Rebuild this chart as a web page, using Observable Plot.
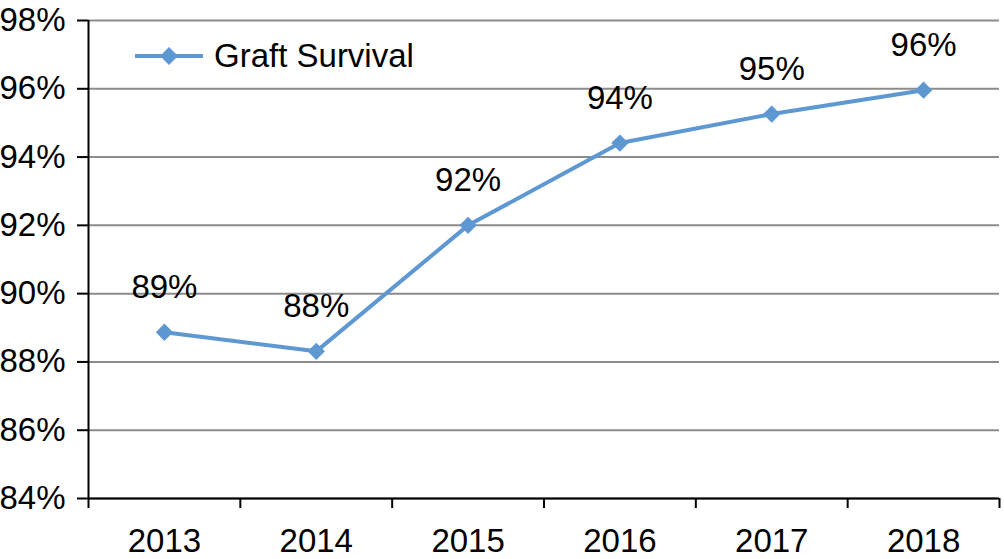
<!DOCTYPE html>
<html>
<head>
<meta charset="utf-8">
<script src="https://cdn.jsdelivr.net/npm/d3@7"></script>
<script src="https://cdn.jsdelivr.net/npm/@observablehq/plot@0.6"></script>
<style>
  html, body { margin: 0; padding: 0; background: white; }
  #wrap { position: relative; width: 1004px; height: 559px; font-family: "Liberation Sans", Arial, sans-serif; }
  #legend { position: absolute; left: 134px; top: 37px; display: flex; align-items: center; font-size: 33px; color: black; }
  #legend svg { margin-right: 10px; }
</style>
</head>
<body>
<div id="wrap"><div id="legend"></div></div>
<script>
const years = [2013, 2014, 2015, 2016, 2017, 2018];
const survival = [88.87, 88.31, 92.0, 94.41, 95.26, 95.96];
const valueLabels = ["89%", "88%", "92%", "94%", "95%", "96%"];
const yTicks = [84, 86, 88, 90, 92, 94, 96, 98];
const xBoundaries = [2012.5, 2013.5, 2014.5, 2015.5, 2016.5, 2017.5, 2018.5];
const seriesName = "Graft Survival";
const lineColor = "#5e98d2";

const data = years.map((year, i) => ({ year, value: survival[i], label: valueLabels[i] }));

const chart = Plot.plot({
  width: 1004,
  height: 559,
  marginLeft: 88,
  marginRight: 5,
  marginTop: 20,
  marginBottom: 61,
  x: { domain: [xBoundaries[0], xBoundaries[xBoundaries.length - 1]] },
  y: { domain: [yTicks[0], yTicks[yTicks.length - 1]] },
  style: { fontFamily: "'Liberation Sans', Arial, sans-serif", fontSize: "33px", color: "black", background: "white" },
  marks: [
    Plot.gridY(yTicks, { stroke: "#8c8c8c", strokeOpacity: 1, strokeWidth: 2 }),
    Plot.axisY(yTicks, { tickFormat: d => d + "%", tickSize: 11, tickPadding: 12, label: null, strokeWidth: 2, fontSize: 33 }),
    Plot.axisX(xBoundaries, { tickFormat: () => "", tickSize: 10, strokeWidth: 2, label: null }),
    Plot.axisX(years, { tickFormat: d => String(d), tickSize: 0, tickPadding: 30, label: null, fontSize: 33 }),
    Plot.ruleX([xBoundaries[0]], { stroke: "black", strokeWidth: 2 }),
    Plot.ruleY([yTicks[0]], { stroke: "black", strokeWidth: 2 }),
    Plot.line(data, { x: "year", y: "value", stroke: lineColor, strokeWidth: 4 }),
    Plot.dot(data, { x: "year", y: "value", symbol: "diamond2", r: 7.8, fill: lineColor, stroke: "none" }),
    Plot.text(data, { x: "year", y: "value", text: "label", dy: -34, lineAnchor: "bottom", fontSize: 33, fill: "black" })
  ]
});
document.getElementById("wrap").prepend(chart);

const legend = document.getElementById("legend");
const ns = "http://www.w3.org/2000/svg";
const sw = document.createElementNS(ns, "svg");
sw.setAttribute("width", "70");
sw.setAttribute("height", "22");
sw.innerHTML = `<line x1="1" y1="11" x2="69" y2="11" stroke="${lineColor}" stroke-width="4"/>` +
  `<path d="M35,2 L44,11 L35,20 L26,11 Z" fill="${lineColor}"/>`;
legend.appendChild(sw);
const span = document.createElement("span");
span.textContent = seriesName;
legend.appendChild(span);
</script>
</body>
</html>
